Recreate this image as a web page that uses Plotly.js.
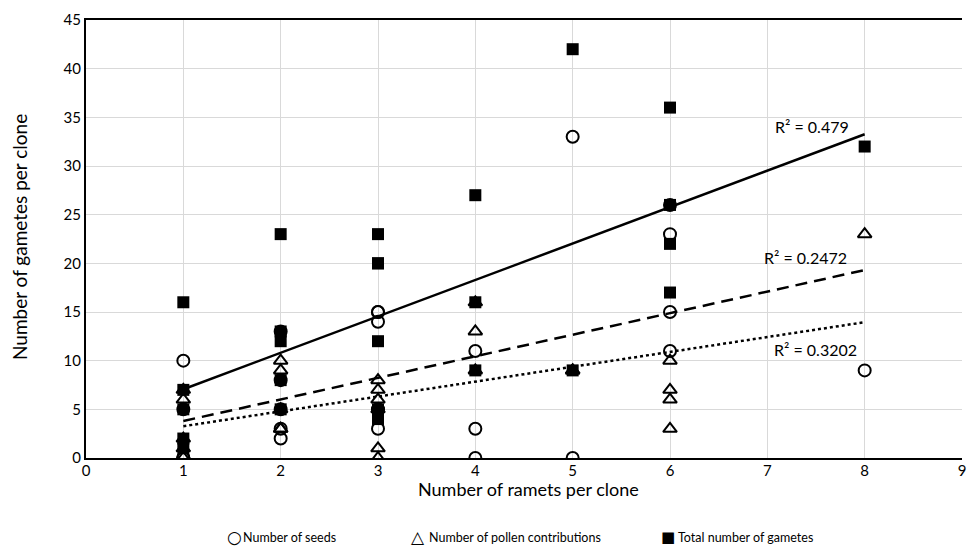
<!DOCTYPE html>
<html>
<head>
<meta charset="utf-8">
<script src="https://cdn.plot.ly/plotly-3.0.1.min.js"></script>
<style>html,body{margin:0;padding:0;background:#fff;}#chart{width:967px;height:552px;}</style>
</head>
<body>
<div id="chart"></div>
<script>
// Data: one entry per clone
const ramets       = [1,1,1,1,1, 2,2,2,2,2, 3,3,3,3,3,3, 4,4,4, 5,5, 6,6,6,6, 8];
const seeds        = [10,0,5,0,0, 13,3,2,8,5, 15,14,15,5,5,3, 11,3,0, 33,0, 26,23,15,11, 9];
const pollen       = [6,7,0,2,1, 10,9,3,5,3, 8,6,5,7,0,1, 16,13,9, 9,9, 10,3,7,6, 23];
const totalGametes = [16,7,5,2,1, 23,12,5,13,8, 23,20,20,12,5,4, 27,16,9, 42,9, 36,26,22,17, 32];
const seriesNames  = ["Number of seeds", "Number of pollen contributions", "Total number of gametes"];
const legendGlyphs = ["○", "△", "■"];
const r2Labels     = ["R² = 0.2472", "R² = 0.3202", "R² = 0.479"];
const xTickVals    = [0,1,2,3,4,5,6,7,8,9];
const yTickVals    = [0,5,10,15,20,25,30,35,40,45];

function linFit(xs, ys) {
  const n = xs.length;
  let sx=0, sy=0, sxx=0, sxy=0;
  for (let i=0;i<n;i++){ sx+=xs[i]; sy+=ys[i]; sxx+=xs[i]*xs[i]; sxy+=xs[i]*ys[i]; }
  const b = (n*sxy - sx*sy)/(n*sxx - sx*sx);
  const a = (sy - b*sx)/n;
  const x0 = Math.min(...xs), x1 = Math.max(...xs);
  return {x:[x0,x1], y:[a+b*x0, a+b*x1]};
}

const fs = linFit(ramets, seeds), fp = linFit(ramets, pollen), ft = linFit(ramets, totalGametes);
const FONT = "Lato, 'Open Sans', sans-serif";

const traces = [
  {x: fs.x, y: fs.y, mode:'lines', line:{color:'#000', width:2.5, dash:'12px,7px'}, showlegend:false, hoverinfo:'skip'},
  {x: fp.x, y: fp.y, mode:'lines', line:{color:'#000', width:2.5, dash:'dot'}, showlegend:false, hoverinfo:'skip'},
  {x: ft.x, y: ft.y, mode:'lines', line:{color:'#000', width:2.5}, showlegend:false, hoverinfo:'skip'},
  {x: ramets, y: seeds, name: seriesNames[0], mode:'markers', type:'scatter', showlegend:false,
   marker:{symbol:'circle-open', size:12, color:'#000', line:{width:2, color:'#000'}}},
  {x: ramets, y: pollen, name: seriesNames[1], mode:'markers', type:'scatter', showlegend:false,
   marker:{symbol:'triangle-up-open', size:12, color:'#000', line:{width:2, color:'#000'}}},
  {x: ramets, y: totalGametes, name: seriesNames[2], mode:'markers', type:'scatter', showlegend:false,
   marker:{symbol:'square', size:12, color:'#000'}}
];

// legend built from text (symbol glyph + series name)
const legSymX = [225, 409, 659];
const legTxtX = [241, 427, 676];
const px2x = p => (p - 86) / 876;
const px2y = p => (458 - p) / 438;
const legendAnn = [];
for (let i=0;i<3;i++){
  legendAnn.push({xref:'paper', yref:'paper', x:px2x(legSymX[i]), y:px2y(537), xanchor:'left', yanchor:'middle',
    text:legendGlyphs[i], showarrow:false, font:{family:"'DejaVu Sans', sans-serif", size:i===2?15:17, color:'#000'}});
  legendAnn.push({xref:'paper', yref:'paper', x:px2x(legTxtX[i]), y:px2y(537), xanchor:'left', yanchor:'middle',
    text:seriesNames[i], showarrow:false, font:{family:FONT, size:12.5, color:'#000'}});
}

const layout = {
  width: 967, height: 552,
  margin: {l:86, r:5, t:20, b:94},
  paper_bgcolor:'#fff', plot_bgcolor:'#fff',
  font: {family: FONT, size: 15, color:'#000'},
  showlegend: false,
  xaxis: {range:[0,9], tickvals:xTickVals, ticktext:xTickVals.map(String),
          showgrid:true, gridcolor:'#d9d9d9', gridwidth:1,
          showline:true, linecolor:'#000', linewidth:2, mirror:true, zeroline:false,
          ticks:'', tickfont:{size:15}, ticklabelstandoff:-2},
  yaxis: {range:[0,45], tickvals:yTickVals, ticktext:yTickVals.map(String),
          showgrid:true, gridcolor:'#d9d9d9', gridwidth:1,
          showline:true, linecolor:'#000', linewidth:2, zeroline:false,
          ticks:'', tickfont:{size:15}},
  annotations: [
    {x:7.39, y:20.6, xref:'x', yref:'y', text:r2Labels[0], showarrow:false, font:{size:16}},
    {x:7.49, y:11.1, xref:'x', yref:'y', text:r2Labels[1], showarrow:false, font:{size:16}},
    {x:7.46, y:34.1, xref:'x', yref:'y', text:r2Labels[2], showarrow:false, font:{size:16}},
    {xref:'paper', yref:'paper', x:px2x(528), y:px2y(489), xanchor:'center', yanchor:'middle',
     text:'Number of ramets per clone', showarrow:false, font:{size:18}},
    {xref:'paper', yref:'paper', x:px2x(20), y:px2y(237), xanchor:'center', yanchor:'middle', textangle:-90,
     text:'Number of gametes per clone', showarrow:false, font:{size:19}}
  ].concat(legendAnn)
};

Plotly.newPlot('chart', traces, layout, {displayModeBar:false, staticPlot:true});
</script>
</body>
</html>
